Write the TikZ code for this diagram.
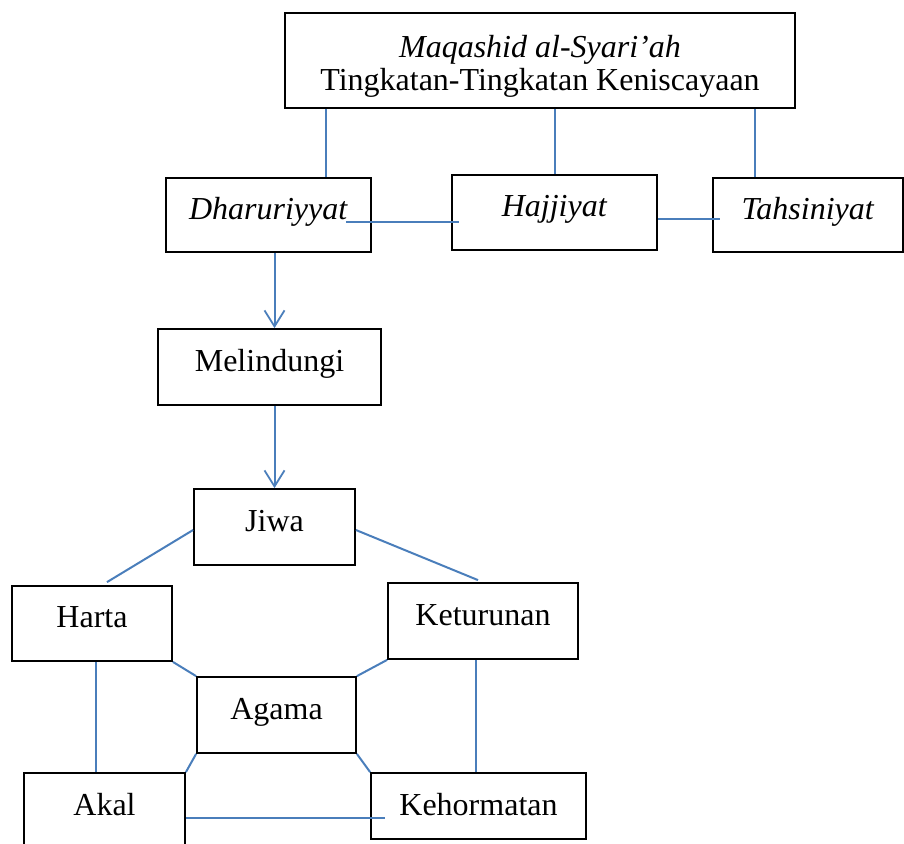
\documentclass[tikz,border=0pt]{standalone}
\usepackage{fontspec}
\setmainfont{Liberation Serif}
\usetikzlibrary{arrows.meta}
\definecolor{garisbiru}{RGB}{74,126,187}

\begin{document}
\begin{tikzpicture}[x=1pt,y=-1pt,
  kotak/.style={draw=black,line width=1.8pt,inner sep=0pt,minimum height=76pt,
    text height=24pt,text depth=16pt,font=\fontsize{32}{36}\selectfont},
  garis/.style={draw=garisbiru,line width=2pt},
  panah/.style={garis,-{Straight Barb[length=16pt,width=20pt,line width=1.8pt]}}]
\useasboundingbox (0,0) rectangle (904,843);
% kotak judul
\node[kotak,minimum width=510pt,minimum height=95pt,text height=,text depth=,align=center,
  font=\fontsize{32}{33}\selectfont] (judul) at (540,60.5)
  {\rule{0pt}{34pt}\textit{Maqashid al-Syari'ah}\\Tingkatan-Tingkatan Keniscayaan};
% tingkatan
\node[kotak,minimum width=205pt,minimum height=74pt] (dhar) at (268.5,215) {\textit{Dharuriyyat}};
\node[kotak,minimum width=205pt,minimum height=75pt] (hajj) at (554.5,212.5) {\textit{Hajjiyat}};
\node[kotak,minimum width=190pt,minimum height=74pt] (tahs) at (808,215) {\textit{Tahsiniyat}};
\node[kotak,minimum width=223pt] (meli) at (269.5,367) {Melindungi};
% lima hal pokok
\node[kotak,minimum width=161pt] (jiwa) at (274.5,527) {Jiwa};
\node[kotak,minimum width=160pt,minimum height=75pt] (harta) at (92,623.5) {Harta};
\node[kotak,minimum width=190pt] (ketu) at (483,621) {Keturunan};
\node[kotak,minimum width=159pt] (agama) at (276.5,715) {Agama};
\node[kotak,minimum width=161pt] (akal) at (104.5,811) {Akal};
\node[kotak,minimum width=215pt,minimum height=66pt,text depth=6pt] (keho) at (478.5,806) {Kehormatan};

\draw[garis] (judul.south -| 326,0) -- (326,0 |- dhar.north);
\draw[garis] (judul.south -| hajj.north) -- (hajj.north);
\draw[garis] (judul.south -| 755,0) -- (755,0 |- tahs.north);
\draw[garis] ([xshift=-26pt,yshift=-7pt]dhar.east) -- ([xshift=8pt,yshift=-9.5pt]hajj.west);
\draw[garis] ([yshift=-6.5pt]hajj.east) -- ([xshift=8pt,yshift=-4pt]tahs.west);
\draw[panah] (dhar.south -| jiwa.north) -- (meli.north -| jiwa.north);
\draw[panah] (meli.south -| jiwa.north) -- (jiwa.north);
\draw[garis] ([yshift=-3pt]jiwa.west) -- ([xshift=15pt,yshift=3pt]harta.north);
\draw[garis] ([yshift=-3pt]jiwa.east) -- ([xshift=-5pt,yshift=2pt]ketu.north);
\draw[garis] (harta.south east) -- (agama.north west);
\draw[garis] (ketu.south west) -- (agama.north east);
\draw[garis] ([xshift=4pt]harta.south) -- ([xshift=4pt]harta.south |- akal.north);
\draw[garis] ([xshift=-7pt]ketu.south) -- ([xshift=-7pt]ketu.south |- keho.north);
\draw[garis] (agama.south west) -- (akal.north east);
\draw[garis] (agama.south east) -- (keho.north west);
\draw[garis] ([yshift=-7pt]akal.east) -- ([xshift=15pt,yshift=-12pt]keho.west);
\end{tikzpicture}
\end{document}
